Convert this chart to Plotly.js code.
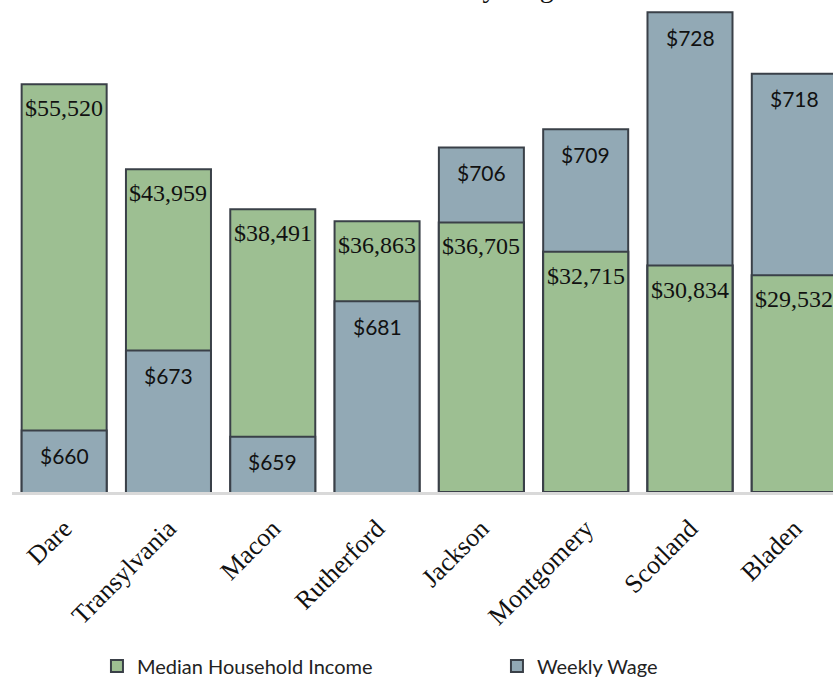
<!DOCTYPE html>
<html><head><meta charset="utf-8">
<script src="https://cdn.plot.ly/plotly-3.0.1.min.js"></script>
<style>html,body{margin:0;padding:0;background:#fff;overflow:hidden}#chart{width:833px;height:686px}</style>
</head><body><div id="chart"></div>
<script>
// ---- data ----
const counties = ['Dare','Transylvania','Macon','Rutherford','Jackson','Montgomery','Scotland','Bladen'];
const medianIncome = [55520, 43959, 38491, 36863, 36705, 32715, 30834, 29532];
const weeklyWage = [660, 673, 659, 681, 706, 709, 728, 718];
const seriesNames = ['Median Household Income', 'Weekly Wage'];
const chartTitle = 'Median Household Income and Weekly Wage';

// ---- axes ----
const incomeRange = [0, 67000];
const wageRange = [650, 730];
const xRange = [-0.5, 7.371];

const greenFill = '#9dbf92';
const blueFill = '#92a9b5';
const edge = '#3a4048';

const fmt = v => '$' + v.toLocaleString('en-US');
const frac = (v, r) => (v - r[0]) / (r[1] - r[0]);
// the shorter of the two overlapping bars is drawn in front
const incomeFront = medianIncome.map((v, i) => frac(v, incomeRange) < frac(weeklyWage[i], wageRange) ? v : null);

const barW = 0.815;
const traces = [
  {type:'bar', x:counties, y:medianIncome, yaxis:'y', name:seriesNames[0], width:barW,
   marker:{color:greenFill, line:{color:edge, width:2}}, hoverinfo:'skip'},
  {type:'bar', x:counties, y:weeklyWage, yaxis:'y2', name:seriesNames[1], width:barW,
   marker:{color:blueFill, line:{color:edge, width:2}}, hoverinfo:'skip'},
  {type:'bar', x:counties, y:incomeFront, yaxis:'y3', name:seriesNames[0], width:barW, showlegend:false,
   marker:{color:greenFill, line:{color:edge, width:2}}, hoverinfo:'skip'}
];

const annotations = [];
counties.forEach((c, i) => {
  annotations.push({x:c, y:medianIncome[i], xref:'x', yref:'y', text:fmt(medianIncome[i]),
    showarrow:false, yanchor:'middle', yshift:-24,
    font:{family:'Liberation Serif, serif', size:24, color:'#111'}});
  annotations.push({x:c, y:weeklyWage[i], xref:'x', yref:'y2', text:fmt(weeklyWage[i]),
    showarrow:false, yanchor:'middle', yshift:-25,
    font:{family:'Lato, sans-serif', size:21, color:'#111'}});
});
annotations.push({xref:'paper', yref:'paper', x:0.677, y:0.99, xanchor:'right', yanchor:'bottom',
  text:chartTitle, showarrow:false, font:{family:'Liberation Serif, serif', size:28, color:'#111'}});

const layout = {
  width:833, height:686,
  margin:{l:12, r:0, t:0, b:194, autoexpand:false},
  paper_bgcolor:'#fff', plot_bgcolor:'#fff',
  barmode:'overlay',
  showlegend:true,
  xaxis:{type:'category', range:xRange, showline:true, linecolor:'#d9d9d9', linewidth:3,
    ticks:'', showgrid:false, tickangle:-45, ticklabelstandoff:8, automargin:false,
    tickfont:{family:'Liberation Serif, serif', size:26, color:'#111'}},
  yaxis:{range:incomeRange, visible:false, fixedrange:true},
  yaxis2:{range:wageRange, overlaying:'y', visible:false},
  yaxis3:{range:incomeRange, overlaying:'y', visible:false},
  legend:{orientation:'h', xref:'container', yref:'container', x:0.1164, xanchor:'left', y:0.029, yanchor:'middle',
    font:{family:'Lato, sans-serif', size:20, color:'#222'}, entrywidth:355, entrywidthmode:'pixels',
    itemwidth:30, bgcolor:'rgba(0,0,0,0)'},
  annotations:annotations
};

Plotly.newPlot('chart', traces, layout, {displayModeBar:false, staticPlot:true});
</script>
</body></html>
